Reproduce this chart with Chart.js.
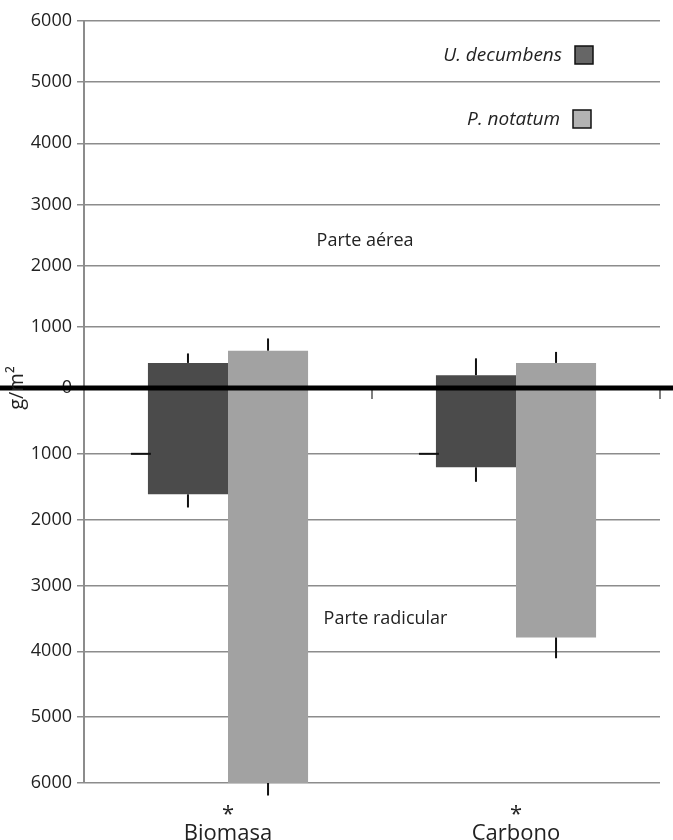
<!DOCTYPE html>
<html>
<head>
<meta charset="utf-8">
<script src="https://cdn.jsdelivr.net/npm/chart.js@4.4.1/dist/chart.umd.min.js"></script>
<style>
  body { margin: 0; background: #fff; }
  #wrap { width: 673px; height: 840px; position: relative; }
</style>
</head>
<body>
<div id="wrap"><canvas id="myChart"></canvas></div>
<script>
// kategorier på x-axeln (asterisk = signifikant skillnad)
const categories = [['*', 'Biomasa'], ['*', 'Carbono']]
const seriesNames = ['U. decumbens', 'P. notatum']

// parte aérea, g/m2 (uppåt)
const aereaU = [410, 210]
const aereaP = [610, 410]
const aereaErrU = [155, 275]
const aereaErrP = [200, 180]

// parte radicular, g/m2 (nedåt)
const radU = [1615, 1205]
const radP = [6000, 3790]
const radErrU = [200, 220]
const radErrP = [190, 315]

// konstiga små streck vid 1000 bredvid U. decumbens
const radMarks = [1000, 1000]

const yTicks = [0, 1000, 2000, 3000, 4000, 5000, 6000]

const darkBar = '#4b4b4b'
const lightBar = '#a2a2a2'
const legendColors = ['#666666', '#b3b3b3']
const textColor = '#222'

Chart.defaults.font.family = "'Open Sans', 'Noto Sans', sans-serif"
Chart.defaults.color = textColor

const ctx = document.getElementById('myChart').getContext('2d')

// felstaplar, nollinje, legend och texter
const extras = {
    id: 'extras',
    afterDatasetsDraw(chart) {
        const c = chart.ctx
        c.save()
        c.strokeStyle = '#111'
        c.lineWidth = 2
        chart.data.datasets.forEach((ds, i) => {
            const meta = chart.getDatasetMeta(i)
            const scale = chart.scales[ds.yAxisID]
            meta.data.forEach((bar, j) => {
                const yEnd = scale.getPixelForValue(ds.data[j] + ds.err[j])
                c.beginPath()
                c.moveTo(bar.x, bar.y)
                c.lineTo(bar.x, yEnd)
                c.stroke()
            })
        })
        // streck vid 1000
        const metaU = chart.getDatasetMeta(2)
        metaU.data.forEach((bar, j) => {
            const y = chart.scales.yRad.getPixelForValue(radMarks[j])
            const left = bar.x - bar.width / 2
            c.beginPath()
            c.moveTo(left - 17, y)
            c.lineTo(left + 3, y)
            c.stroke()
        })
        c.restore()
    },
    afterDraw(chart) {
        const c = chart.ctx
        const area = chart.chartArea
        const x = chart.scales.x
        const yA = chart.scales.yAer
        const yR = chart.scales.yRad
        const y0 = yA.getPixelForValue(0)
        c.save()

        // små streck mellan kategorierna
        c.strokeStyle = '#555'
        c.lineWidth = 1.5
        ;[0.5, 1.5].forEach(v => {
            const px = x.getPixelForValue(v)
            c.beginPath()
            c.moveTo(px, y0)
            c.lineTo(px, y0 + 11)
            c.stroke()
        })

        // tjock nollinje över hela bredden
        c.strokeStyle = '#000'
        c.lineWidth = 5
        c.beginPath()
        c.moveTo(0, y0)
        c.lineTo(chart.width, y0)
        c.stroke()

        // legend: text till vänster, ruta till höger
        c.font = "italic 19px 'Open Sans'"
        c.textAlign = 'right'
        c.textBaseline = 'middle'
        seriesNames.forEach((name, i) => {
            const yc = area.top + 34 + i * 64
            const bx = area.right - 85 - i * 2
            c.fillStyle = textColor
            c.fillText(name, bx - 13, yc + 1)
            c.fillStyle = legendColors[i]
            c.fillRect(bx, yc - 9, 18, 18)
            c.strokeStyle = '#111'
            c.lineWidth = 1.5
            c.strokeRect(bx, yc - 9, 18, 18)
        })

        // Parte aérea / Parte radicular
        c.font = "18px 'Open Sans'"
        c.textAlign = 'center'
        c.fillStyle = textColor
        c.fillText('Parte aérea', x.getPixelForValue(0.476), yA.getPixelForValue(2400))
        c.fillText('Parte radicular', x.getPixelForValue(0.547), yR.getPixelForValue(3500))

        // y-axelns titel
        c.font = "20px 'Open Sans'"
        c.translate(17, y0)
        c.rotate(-Math.PI / 2)
        c.fillText('g/m²', 0, 0)
        c.restore()
    }
}

const yCommon = {
    type: 'linear',
    position: 'left',
    stack: 'g',
    min: 0,
    max: 6000,
    afterBuildTicks: axis => { axis.ticks = yTicks.map(v => ({ value: v })) },
    afterFit: axis => { axis.width = 84 },
    grid: { color: '#8c8c8c', lineWidth: 1.5, tickLength: 7 },
    border: { color: '#8c8c8c', width: 2 }
}

const myChart = new Chart(ctx, {
    type: 'bar',
    data: {
        labels: categories,
        datasets: [
            { label: seriesNames[0], data: aereaU, err: aereaErrU, yAxisID: 'yAer', stack: 'U', backgroundColor: darkBar },
            { label: seriesNames[1], data: aereaP, err: aereaErrP, yAxisID: 'yAer', stack: 'P', backgroundColor: lightBar },
            { label: seriesNames[0], data: radU, err: radErrU, yAxisID: 'yRad', stack: 'U', backgroundColor: darkBar },
            { label: seriesNames[1], data: radP, err: radErrP, yAxisID: 'yRad', stack: 'P', backgroundColor: lightBar }
        ]
    },
    options: {
        responsive: true,
        maintainAspectRatio: false,
        animation: false,
        layout: { padding: { top: 21, right: 13, left: 0, bottom: 0 } },
        datasets: {
            bar: { categoryPercentage: 0.556, barPercentage: 1, borderWidth: 0 }
        },
        plugins: {
            legend: { display: false },
            tooltip: { enabled: false }
        },
        scales: {
            x: {
                stacked: true,
                grid: { display: false, drawTicks: false },
                border: { display: false },
                ticks: {
                    padding: 22,
                    maxRotation: 0,
                    color: textColor,
                    font: { size: 22, lineHeight: '19px' }
                },
                afterFit: axis => { axis.height = 57 }
            },
            // nedre delen (radicular), ritas först = hamnar längst ner
            yRad: Object.assign({}, yCommon, {
                stackWeight: 395,
                reverse: true,
                ticks: { padding: 5, color: textColor, font: { size: 18 }, callback: v => v === 0 ? '' : String(v) }
            }),
            // övre delen (aérea)
            yAer: Object.assign({}, yCommon, {
                stackWeight: 367,
                ticks: { padding: 5, color: textColor, font: { size: 18 }, callback: v => String(v) }
            })
        }
    },
    plugins: [extras]
})
</script>
</body>
</html>
